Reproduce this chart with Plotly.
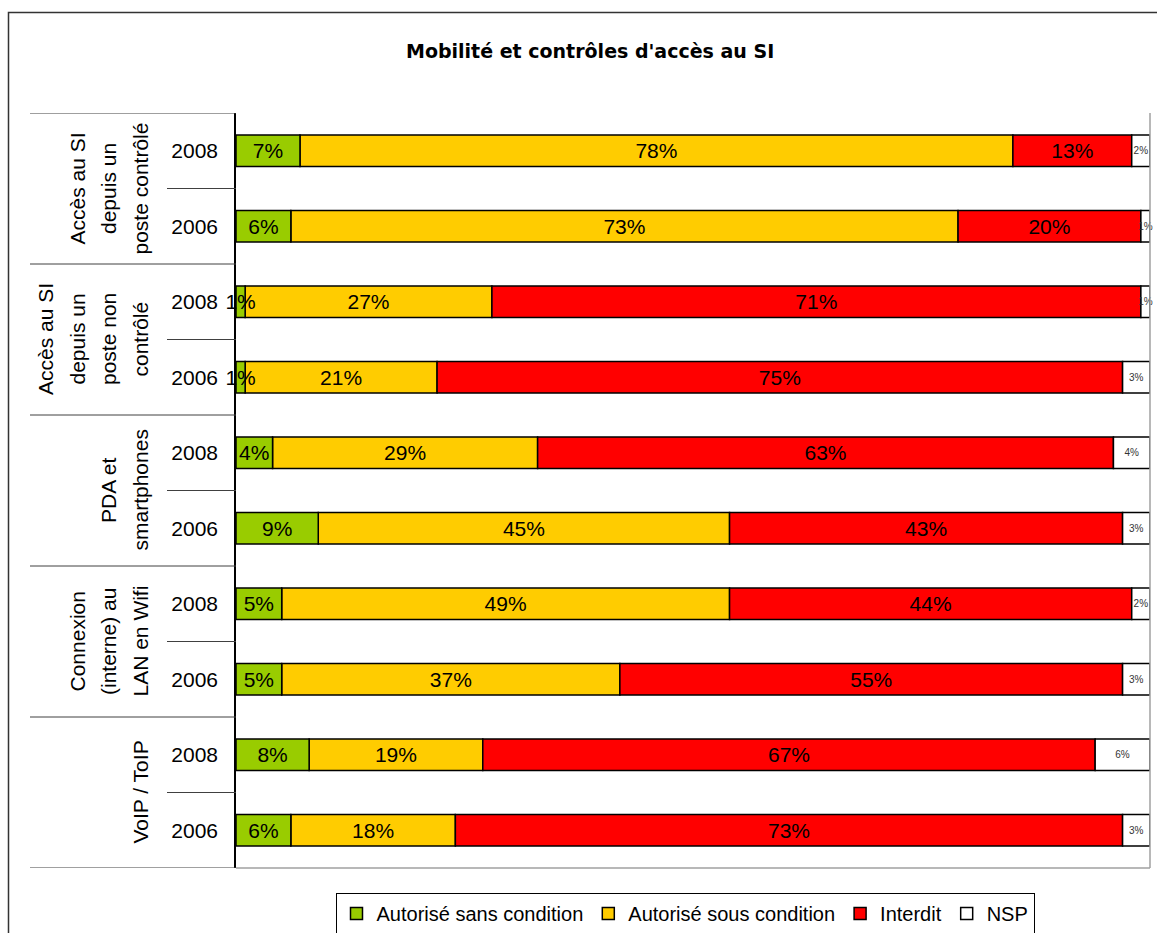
import plotly.graph_objects as go

# ---------------- data ----------------
groups = [
    ["Accès au SI", "depuis un", "poste contrôlé"],
    ["Accès au SI", "depuis un", "poste non", "contrôlé"],
    ["PDA et", "smartphones"],
    ["Connexion", "(interne) au", "LAN en Wifi"],
    ["VoIP / ToIP"],
]
years = ["2008", "2006"]
series_names = ["Autorisé sans condition", "Autorisé sous condition", "Interdit", "NSP"]

# rows top to bottom: group1-2008, group1-2006, group2-2008, ...
sans_condition = [7, 6, 1, 1, 4, 9, 5, 5, 8, 6]
sous_condition = [78, 73, 27, 21, 29, 45, 49, 37, 19, 18]
interdit       = [13, 20, 71, 75, 63, 43, 44, 55, 67, 73]
nsp            = [2, 1, 1, 3, 4, 3, 2, 3, 6, 3]

title_text = "Mobilité et contrôles d'accès au SI"

# ---------------- layout geometry ----------------
W, H = 1157, 933
L, R, T, B = 236, 7, 113, 65
PW = W - L - R
PH = H - T - B
FONT = "Liberation Sans, Arial"

def px_x(p):
    return (p - L) / PW

def px_y(p):
    return (H - B - p) / PH

row_labels = []
for g in groups:
    for y in years:
        row_labels.append(y)
rows = list(range(len(row_labels)))

colors = ["#99CC00", "#FFCC00", "#FF0000", "#FFFFFF"]
values = [sans_condition, sous_condition, interdit, nsp]

# stacking bases (cumulative sums of the series on the left)
bases = []
running = [0] * len(rows)
for vals in values:
    bases.append(list(running))
    running = [a + b for a, b in zip(running, vals)]

# draw order: the first series last so its overflowing labels stay on top
draw_order = [1, 2, 3, 0]

fig = go.Figure()
for i in draw_order:
    name, vals, col, base = series_names[i], values[i], colors[i], bases[i]
    small = name == "NSP"
    fig.add_trace(go.Bar(
        name=name,
        legendrank=i + 1,
        y=rows,
        x=vals,
        base=base,
        orientation="h",
        width=0.42,
        marker=dict(color=col, line=dict(color="black", width=1.5)),
        text=[f"{v}%" for v in vals],
        textposition="inside",
        insidetextanchor="middle",
        constraintext="none",
        textangle=0,
        insidetextfont=dict(family=FONT, size=10 if small else 21,
                            color="#333333" if small else "black"),
        cliponaxis=False,
        hoverinfo="skip",
    ))

shapes = []
line_col = "#404040"
n_groups = len(groups)
for k in range(n_groups + 1):
    yv = -0.5 + 2 * k
    shapes.append(dict(type="line", xref="paper", yref="y",
                       x0=px_x(30), x1=0, y0=yv, y1=yv,
                       line=dict(color=line_col, width=1)))
for k in range(n_groups):
    yv = 0.5 + 2 * k
    shapes.append(dict(type="line", xref="paper", yref="y",
                       x0=px_x(167), x1=0, y0=yv, y1=yv,
                       line=dict(color=line_col, width=1)))
shapes.append(dict(type="line", xref="paper", yref="paper", x0=1, x1=1, y0=0, y1=1,
                   line=dict(color="#A0A0A0", width=1.5)))
shapes.append(dict(type="line", xref="paper", yref="paper", x0=0, x1=1, y0=0, y1=0,
                   line=dict(color="#A0A0A0", width=1.5)))
shapes.append(dict(type="rect", xref="paper", yref="paper",
                   x0=px_x(8.5), x1=px_x(1170), y0=px_y(950), y1=px_y(12.5),
                   line=dict(color="#333333", width=1.5), fillcolor="rgba(0,0,0,0)"))

annotations = []
for gi, g in enumerate(groups):
    yc = 2 * gi + 0.5
    n = len(g)
    for li, txt in enumerate(g):
        xp = 140 - 31.5 * (n - 1 - li)
        annotations.append(dict(text=txt, xref="paper", yref="y", x=px_x(xp), y=yc,
                                textangle=-90, showarrow=False, xanchor="center",
                                yanchor="middle",
                                font=dict(family=FONT, size=21, color="black")))
annotations.append(dict(text="<b>" + title_text + "</b>", xref="paper", yref="paper",
                        x=px_x(590), y=px_y(51), showarrow=False, xanchor="center",
                        yanchor="middle",
                        font=dict(family="DejaVu Sans", size=19, color="black")))

fig.update_layout(
    width=W, height=H, autosize=False,
    margin=dict(l=L, r=R, t=T, b=B, pad=0, autoexpand=False),
    paper_bgcolor="white", plot_bgcolor="white",
    barmode="overlay",
    showlegend=True,
    legend=dict(orientation="h", x=px_x(685), xanchor="center", y=px_y(893), yanchor="top",
                bordercolor="black", borderwidth=1, bgcolor="white",
                font=dict(family=FONT, size=20, color="black"),
                itemclick=False, itemwidth=30),
    xaxis=dict(range=[0, 100], showgrid=False, zeroline=False, showline=False,
               showticklabels=False, ticks="", fixedrange=True),
    yaxis=dict(range=[9.5, -0.5], tickvals=rows, ticktext=row_labels,
               showgrid=False, zeroline=False, showline=True, linecolor="black", linewidth=1.5,
               ticks="", ticklabelstandoff=12,
               tickfont=dict(family=FONT, size=21, color="black")),
    shapes=shapes,
    annotations=annotations,
    font=dict(family=FONT),
)

fig.write_html("out.html")
